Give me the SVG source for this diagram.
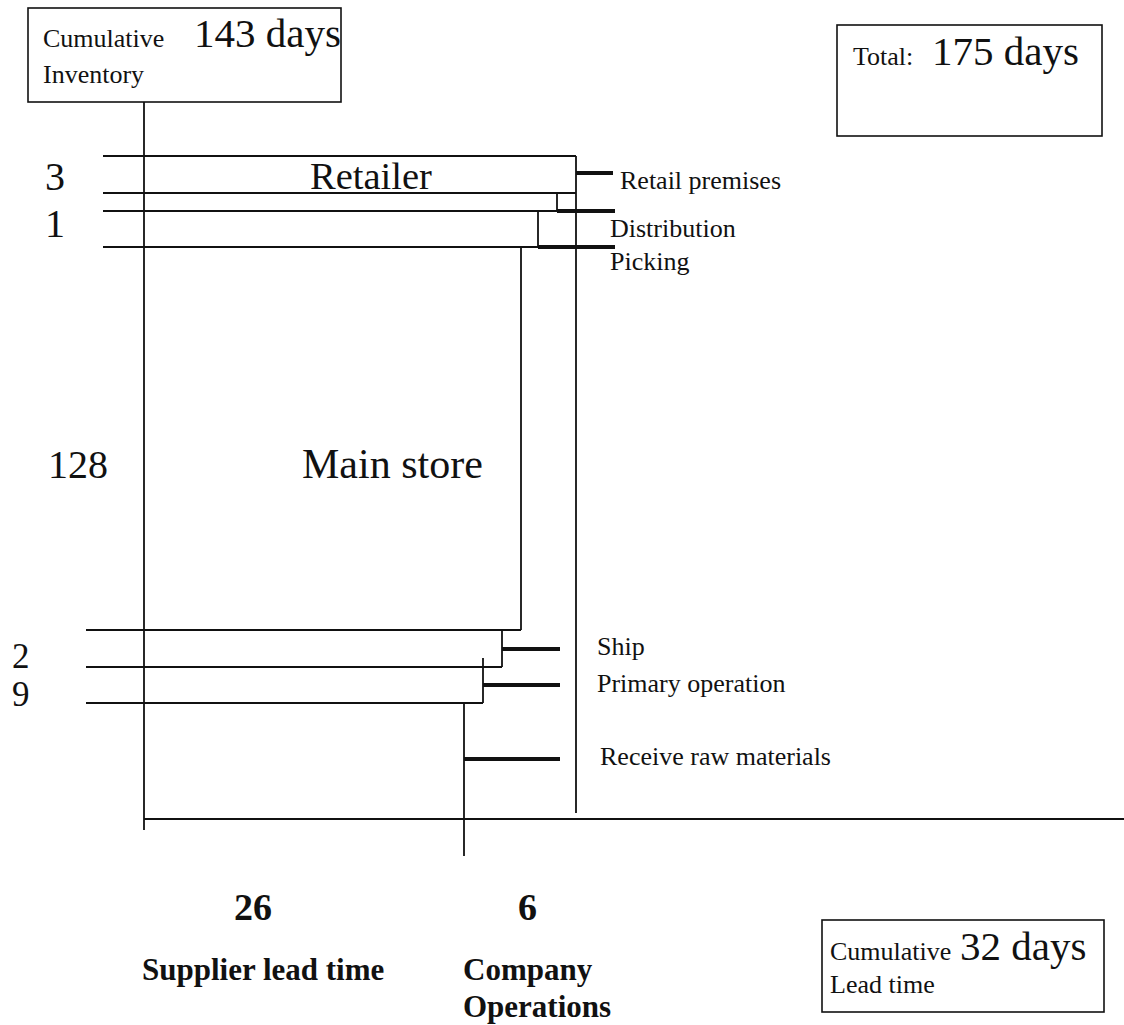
<svg xmlns="http://www.w3.org/2000/svg" width="1124" height="1025" viewBox="0 0 1124 1025">
  <style>
    text { font-family: "Liberation Serif", "Times New Roman", serif; fill: #111; }
    .box { fill: none; stroke: #111; stroke-width: 1.6; }
    .ln { stroke: #111; stroke-width: 1.8; fill: none; }
    .tick { stroke: #111; stroke-width: 4; fill: none; }
    .lbl { font-size: 26px; }
    .big { font-size: 41px; }
    .num { font-size: 40px; }
    .bold { font-weight: bold; font-size: 31px; }
  </style>
  <rect width="1124" height="1025" fill="#fff"/>

  <!-- summary boxes -->
  <g id="cumulative-inventory">
    <rect class="box" x="28" y="8" width="313" height="94"/>
    <text x="43" y="47" class="lbl">Cumulative</text>
    <text x="194" y="47" class="big">143 days</text>
    <text x="43" y="83" class="lbl">Inventory</text>
  </g>
  <g id="total">
    <rect class="box" x="837" y="25" width="265" height="111"/>
    <text x="853" y="65" class="lbl">Total:</text>
    <text x="932" y="65" class="big">175 days</text>
  </g>
  <g id="cumulative-lead-time">
    <rect class="box" x="822" y="920" width="282" height="92"/>
    <text x="830" y="960" class="lbl">Cumulative</text>
    <text x="960" y="960" class="big">32 days</text>
    <text x="830" y="993" class="lbl">Lead time</text>
  </g>

  <!-- stage bands and timeline -->
  <g id="connectors">
    <!-- inventory axis and lead-time axis -->
    <line class="ln" x1="144" y1="102" x2="144" y2="830"/>
    <line class="ln" x1="144" y1="819" x2="1124" y2="819"/>
    <line class="ln" x1="576" y1="156" x2="576" y2="813"/>

    <!-- retailer -->
    <line class="ln" x1="103" y1="156" x2="576" y2="156"/>
    <line class="ln" x1="103" y1="193" x2="576" y2="193"/>
    <line class="ln" x1="557" y1="193" x2="557" y2="211"/>
    <!-- distribution -->
    <line class="ln" x1="103" y1="211" x2="557" y2="211"/>
    <line class="ln" x1="538" y1="211" x2="538" y2="247"/>
    <!-- picking / main store -->
    <line class="ln" x1="103" y1="247" x2="538" y2="247"/>
    <line class="ln" x1="521" y1="247" x2="521" y2="630"/>
    <line class="ln" x1="86" y1="630" x2="521" y2="630"/>
    <!-- ship -->
    <line class="ln" x1="502" y1="630" x2="502" y2="667"/>
    <line class="ln" x1="86" y1="667" x2="502" y2="667"/>
    <!-- primary operation -->
    <line class="ln" x1="483" y1="658" x2="483" y2="703"/>
    <line class="ln" x1="86" y1="703" x2="483" y2="703"/>
    <!-- receive raw materials -->
    <line class="ln" x1="464" y1="703" x2="464" y2="856"/>

    <!-- stage ticks -->
    <line class="tick" x1="576" y1="173" x2="613" y2="173"/>
    <line class="tick" x1="557" y1="211" x2="615" y2="211"/>
    <line class="tick" x1="538" y1="247" x2="615" y2="247"/>
    <line class="tick" x1="502" y1="649" x2="560" y2="649"/>
    <line class="tick" x1="483" y1="685" x2="560" y2="685"/>
    <line class="tick" x1="464" y1="759" x2="560" y2="759"/>
  </g>

  <!-- stage labels -->
  <g id="retailer">
    <text x="45" y="190" class="num">3</text>
    <text x="310" y="189" style="font-size:38.5px">Retailer</text>
    <text x="620" y="189" class="lbl">Retail premises</text>
  </g>
  <g id="distribution">
    <text x="45" y="237" class="num">1</text>
    <text x="610" y="237" class="lbl">Distribution</text>
  </g>
  <g id="picking">
    <text x="610" y="270" class="lbl">Picking</text>
  </g>
  <g id="main-store">
    <text x="48" y="478" class="num">128</text>
    <text x="302" y="478" style="font-size:42px">Main store</text>
  </g>
  <g id="ship">
    <text x="12" y="668" style="font-size:35px">2</text>
    <text x="597" y="655" class="lbl">Ship</text>
  </g>
  <g id="primary-operation">
    <text x="12" y="706" style="font-size:35px">9</text>
    <text x="597" y="692" class="lbl">Primary operation</text>
  </g>
  <g id="receive-raw-materials">
    <text x="600" y="765" class="lbl">Receive raw materials</text>
  </g>

  <!-- lead-time split -->
  <g id="supplier-lead-time">
    <text x="234" y="920" class="bold" style="font-size:38px">26</text>
    <text x="142" y="980" class="bold">Supplier lead time</text>
  </g>
  <g id="company-operations">
    <text x="518" y="920" class="bold" style="font-size:38px">6</text>
    <text x="463" y="980" class="bold">Company</text>
    <text x="463" y="1017" class="bold">Operations</text>
  </g>
</svg>
